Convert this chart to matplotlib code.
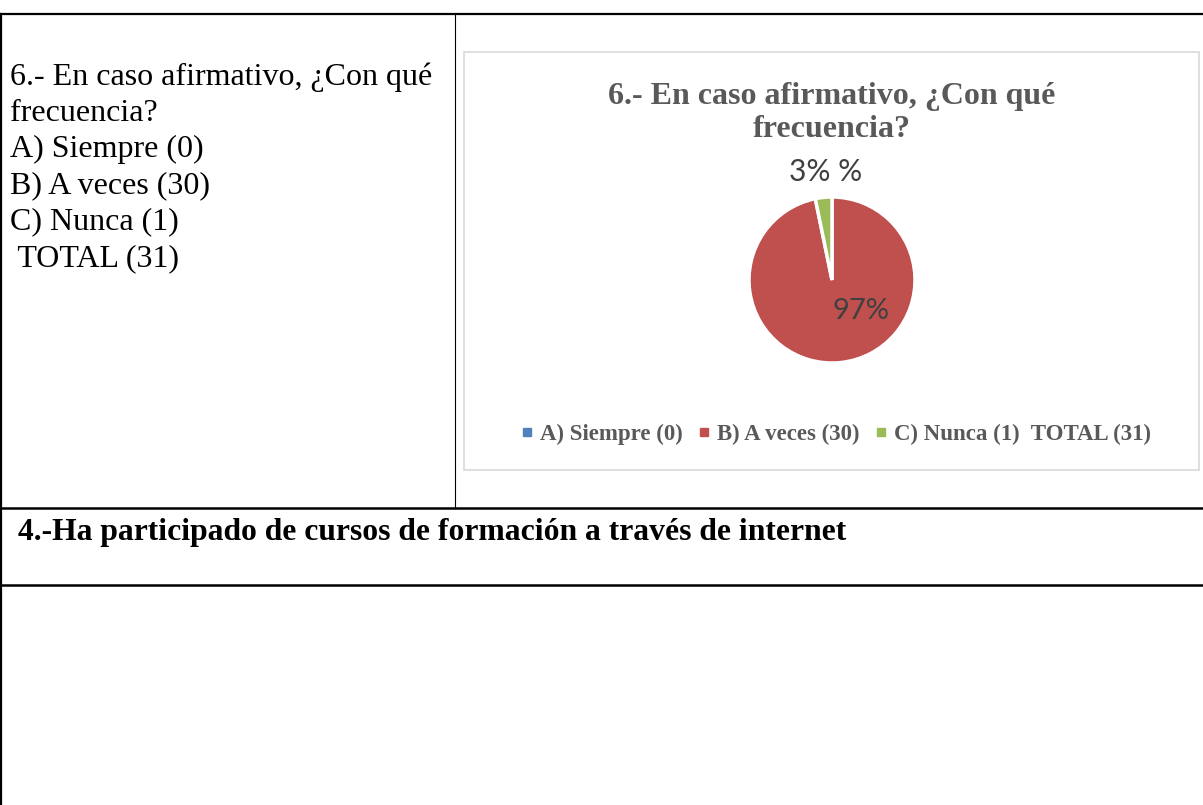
import matplotlib
matplotlib.use("Agg")
import matplotlib.pyplot as plt
from matplotlib.lines import Line2D

# ---- data ----
categories = ["A) Siempre (0)", "B) A veces (30)", "C) Nunca (1)  TOTAL (31)"]
values = [0, 30, 1]
colors = ["#4F81BD", "#C0504D", "#9BBB59"]
chart_title = "6.- En caso afirmativo, ¿Con qué\nfrecuencia?"
question_lines = ["6.- En caso afirmativo, ¿Con qué", "frecuencia?", "A) Siempre (0)",
                  "B) A veces (30)", "C) Nunca (1)", " TOTAL (31)"]
next_heading = "4.-Ha participado de cursos de formación a través de internet"

W, H = 1203, 805
fig = plt.figure(figsize=(W / 100, H / 100), dpi=100)
bg = fig.add_axes([0, 0, 1, 1])
bg.set_xlim(0, W)
bg.set_ylim(H, 0)
bg.axis("off")
bg.set_zorder(2)

serif = "Liberation Serif"

# table lines
bg.plot([0, W], [14, 14], color="black", lw=1.6)
bg.plot([1, 1], [14, H], color="black", lw=1.6)
bg.plot([455, 455], [14, 508], color="black", lw=0.8)
bg.plot([0, W], [508, 508], color="black", lw=1.8)
bg.plot([0, W], [585, 585], color="black", lw=1.8)

# left question text
y0, dy = 77, 36.3
for i, line in enumerate(question_lines):
    bg.text(10, y0 + i * dy, line, family=serif, fontsize=23, color="black",
            va="center", ha="left")

# heading in lower row
bg.text(18, 532, next_heading, family=serif, fontsize=22.8, fontweight="bold",
        color="black", va="center", ha="left")

# chart frame
bg.add_patch(plt.Rectangle((464, 52), 735, 418, fill=False, edgecolor="#D9D9D9", lw=1.2))

# chart title
bg.text(832, 113, chart_title, family=serif, fontsize=23, fontweight="bold",
        color="#595959", ha="center", va="center", linespacing=1.2)

# pie
cx, cy, R = 832, 280, 83
pax = fig.add_axes([(cx - R) / W, (H - cy - R) / H, 2 * R / W, 2 * R / H])
pax.set_zorder(1)
wedges, _ = pax.pie(values, colors=colors, startangle=90, counterclock=False,
                    wedgeprops=dict(edgecolor="white", linewidth=2.5))
pax.set_xlim(-1, 1)
pax.set_ylim(-1, 1)
pax.set_aspect("equal")
pax.axis("off")

total = sum(values)
pct = [round(100 * v / total) for v in values]
bg.text(861, 311, f"{pct[1]}%", family="Lato", fontsize=21, color="#404040",
        ha="center", va="center")
bg.text(826, 172, f"{pct[2]}% %", family="Lato", fontsize=21.5, color="#404040",
        ha="center", va="center")

# legend
handles = [Line2D([0], [0], marker="s", color="none", markerfacecolor=c,
                  markeredgecolor=c, markersize=5.5) for c in colors]
leg = fig.legend(handles, categories, loc="center", bbox_to_anchor=(836 / W, 1 - 434 / H),
                 ncol=3, frameon=False, handlelength=0.5, handletextpad=0.3,
                 columnspacing=0.7, prop=dict(family=serif, weight="bold", size=16.5))
for t in leg.get_texts():
    t.set_color("#595959")

fig.savefig("out.png", dpi=100)
